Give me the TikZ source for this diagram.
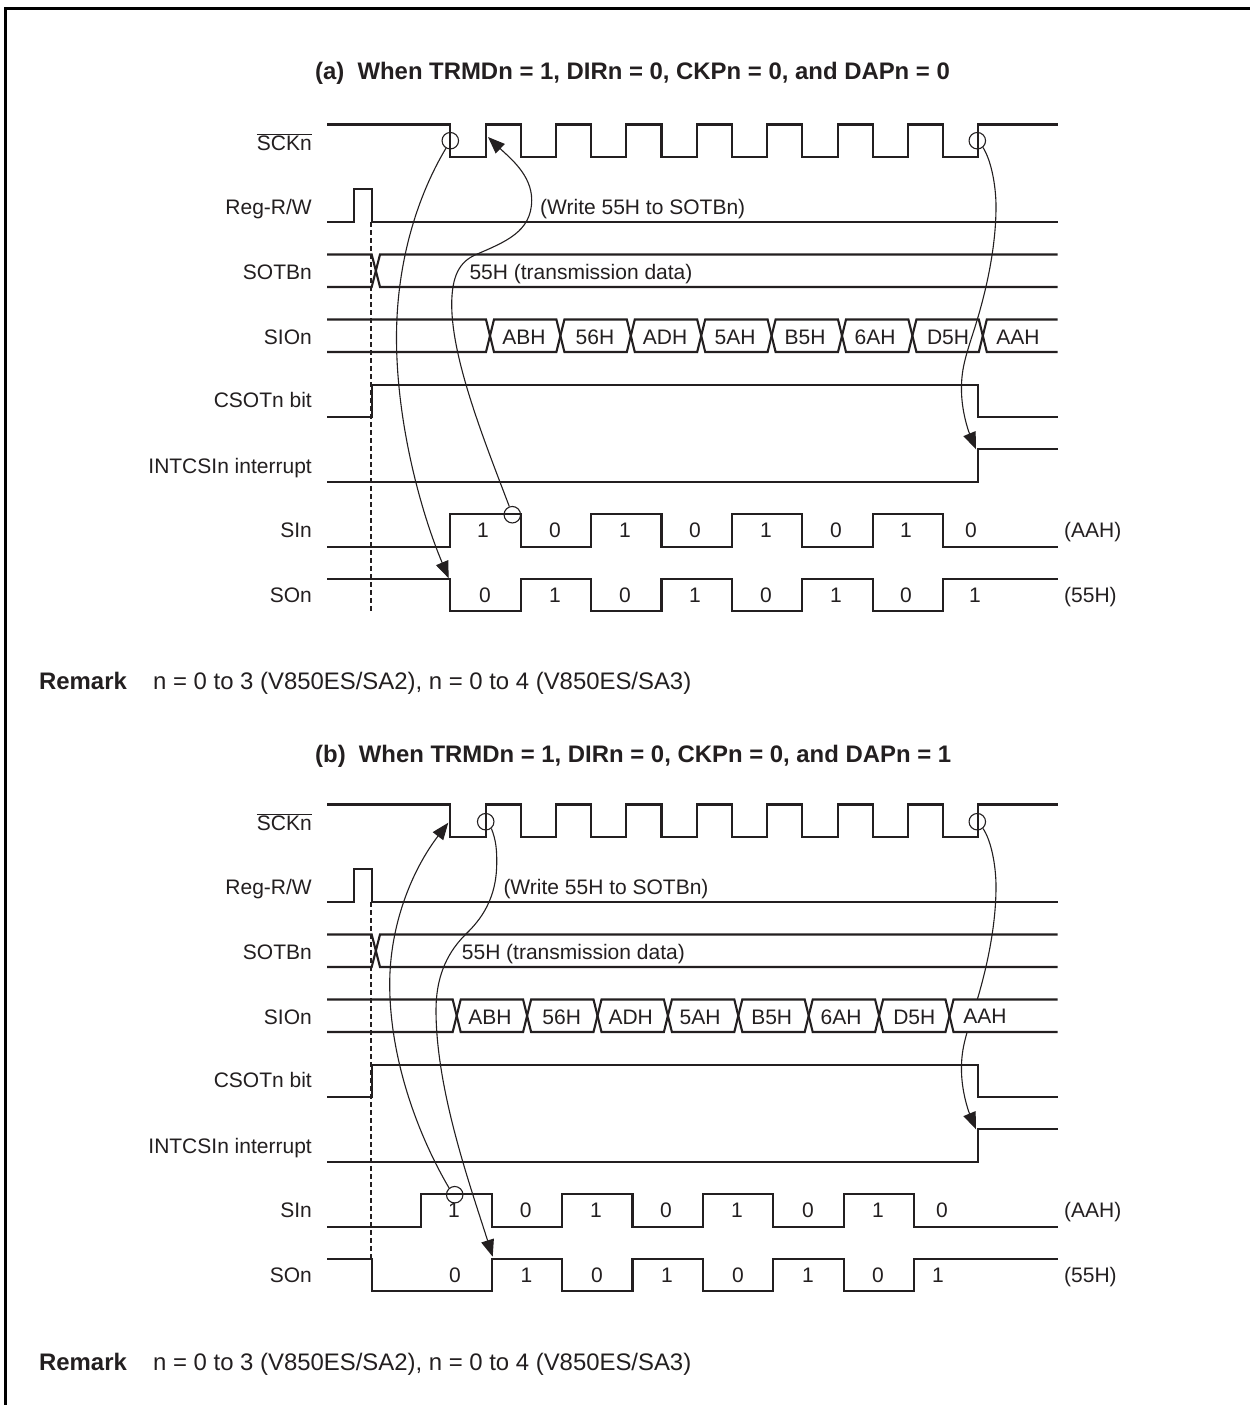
\documentclass[tikz,border=0pt]{standalone}
\usepackage{fontspec}
\setmainfont{Liberation Sans}
\usetikzlibrary{arrows.meta}
\definecolor{ink}{HTML}{231F20}
\tikzset{
  wave/.style={draw=ink,line width=2.1pt,line join=miter},
  link/.style={draw=ink,line width=1.1pt},
  arrowlink/.style={link,-{Triangle[length=17pt,width=13pt]}},
  guide/.style={draw=ink,line width=1.1pt,dash pattern=on 5pt off 3pt},
  ring/.style={circle,draw=ink,line width=1.1pt,minimum size=16.5pt,inner sep=0pt},
  sig/.style={anchor=base east,font=\fontsize{21}{25}\selectfont,text=ink,inner sep=0pt},
  txt/.style={anchor=base west,font=\fontsize{21}{25}\selectfont,text=ink,inner sep=0pt},
  val/.style={anchor=base,font=\fontsize{21}{25}\selectfont,text=ink,inner sep=0pt},
  ttl/.style={anchor=base west,font=\fontsize{23.9}{27}\selectfont\bfseries,text=ink,inner sep=0pt},
  rmk/.style={anchor=base west,font=\fontsize{23.9}{27}\selectfont\bfseries,text=ink,inner sep=0pt},
  rmktxt/.style={anchor=base west,font=\fontsize{23.9}{27}\selectfont,text=ink,inner sep=0pt},
}
% common rows of one panel: #1 = y offset, #2 = name prefix
\newcommand{\commonrows}[2]{%
\begin{scope}[yshift=-#1pt]
  \foreach \n/\t/\y in {1/{$\overline{\mbox{SCKn}}$}/150,2/Reg-R\slash W/214,3/SOTBn/279,4/SIOn/344,5/CSOTn bit/407,6/INTCSIn interrupt/473,7/SIn/537,8/SOn/602}
    \node[sig] (#2l\n) at (312,\y) {\t};
  % SCK
  \draw[wave] (327,124.5)
    \foreach \k in {0,...,7} { -- ({450.3+70.4*\k},124.5) -- ({450.3+70.4*\k},157) -- ({485.6+70.4*\k},157) -- ({485.6+70.4*\k},124.5) }
    -- (1057.5,124.5);
  % Reg-R/W
  \draw[wave] (327,222) -- (354,222) -- (354,189) -- (371.7,189) -- (371.7,222) -- (1057.5,222);
  % SOTB
  \draw[wave] (327,254.5) -- (371.7,254.5) -- (380,287) -- (1057.5,287);
  \draw[wave] (327,287) -- (371.7,287) -- (380,254.5) -- (1057.5,254.5);
  % CSOT
  \draw[wave] (327,416.7) -- (371.7,416.7) -- (371.7,384.7) -- (978,384.7) -- (978,416.7) -- (1057.5,416.7);
  % INTCSI
  \draw[wave] (327,481.7) -- (978,481.7) -- (978,449.3) -- (1057.5,449.3);
\end{scope}}
% bus row: #1 = x of first crossing, #2 top y, #3 bottom y
\newcommand{\busrow}[3]{%
  \draw[wave] (327,#2)
    \foreach \k in {0,2,4,6} { -- ({#1+70.4*\k},#2) -- ({#1+8+70.4*\k},#3) -- ({#1+70.4*(\k+1)},#3) -- ({#1+8+70.4*(\k+1)},#2) }
    -- (1057.5,#2);
  \draw[wave] (327,#3)
    \foreach \k in {0,2,4,6} { -- ({#1+70.4*\k},#3) -- ({#1+8+70.4*\k},#2) -- ({#1+70.4*(\k+1)},#2) -- ({#1+8+70.4*(\k+1)},#3) }
    -- (1057.5,#3);}
\begin{document}
\begin{tikzpicture}[x=1pt,y=-1pt]
\useasboundingbox (0,0) rectangle (1250,1405);
\fill[white] (0,0) rectangle (1250,1405);
\draw[black,line width=3pt] (5.5,1405) -- (5.5,8.5) -- (1250,8.5);

%% ===== panel a =====
\node[ttl] (ta) at (315,80) {(a)\hspace{0.55em}When TRMDn = 1, DIRn = 0, CKPn = 0, and DAPn = 0};
\coordinate (ga1) at (371,222);
\coordinate (ga2) at (371,612);
\draw[guide] (ga1) -- (ga2);
\node[ring] (ca1) at (450.3,140.7) {};
\node[ring] (ca2) at (977.3,140.7) {};
\node[ring] (ca3) at (512.3,514.7) {};
\coordinate (ea1) at (448.7,578.3);
\coordinate (ea2) at (488,137);
\coordinate (ea3) at (976,449.3);
\draw[arrowlink] (ca1.240) .. controls (418,195) and (397,260) .. (396.5,335) .. controls (396,420) and (420,510) .. (ea1);
\draw[arrowlink] (ca3.110) .. controls (484,440) and (452,360) .. (451.7,305) .. controls (451.7,275) and (460,262) .. (475,255) .. controls (505,242) and (531.7,232) .. (531.7,200) .. controls (531.7,175) and (510,158) .. (ea2);
\draw[arrowlink] (ca2.-50) .. controls (991,160) and (996,185) .. (996,206.7) .. controls (996,250) and (985,295) .. (975,327) .. controls (965,358) and (961,370) .. (961.5,392) .. controls (962,412) and (968,430) .. (ea3);
\commonrows{0}{a}
\node[txt] (wa) at (540,214) {(Write 55H to SOTBn)};
\node[txt] (da) at (469.3,279) {55H (transmission data)};
\busrow{486}{319.5}{352}
\foreach \n/\t/\x in {1/ABH/524,2/56H/595,3/ADH/665,4/5AH/735,5/B5H/805,6/6AH/875,7/D5H/948,8/AAH/1018}
  \node[val] (ha\n) at (\x,344.5) {\t};
% SIn a
\draw[wave] (327,546.7)
  \foreach \k in {0,...,3} { -- ({450.3+140.8*\k},546.7) -- ({450.3+140.8*\k},514.3) -- ({520.7+140.8*\k},514.3) -- ({520.7+140.8*\k},546.7) }
  -- (1057.5,546.7);
% SOn a
\draw[wave] (327,579.3)
  \foreach \k in {0,...,3} { -- ({450.3+140.8*\k},579.3) -- ({450.3+140.8*\k},611.3) -- ({520.7+140.8*\k},611.3) -- ({520.7+140.8*\k},579.3) }
  -- (1057.5,579.3);
\foreach \n/\t/\x in {1/1/483,2/0/555,3/1/625,4/0/695,5/1/766,6/0/836,7/1/906,8/0/971}
  \node[val] (ia\n) at (\x,537) {\t};
\foreach \n/\t/\x in {1/0/485,2/1/555,3/0/625,4/1/695,5/0/766,6/1/836,7/0/906,8/1/975}
  \node[val] (oa\n) at (\x,602) {\t};
\node[txt] (va) at (1064,537) {(AAH)};
\node[txt] (sa) at (1064,602) {(55H)};
\node[rmk] (ra) at (39,689) {Remark};
\node[rmktxt] (na) at (153,689) {n = 0 to 3 (V850ES/SA2), n = 0 to 4 (V850ES/SA3)};

%% ===== panel b =====
\node[ttl] (tb) at (315,762) {(b)\hspace{0.55em}When TRMDn = 1, DIRn = 0, CKPn = 0, and DAPn = 1};
\coordinate (gb1) at (371,902);
\coordinate (gb2) at (371,1259);
\draw[guide] (gb1) -- (gb2);
\node[ring] (cb1) at (485.7,821.7) {};
\node[ring] (cb2) at (977.3,821.7) {};
\node[ring] (cb3) at (454.7,1194.7) {};
\coordinate (eb1) at (448.3,822.7);
\coordinate (eb2) at (492.7,1256.7);
\coordinate (eb3) at (976,1129.3);
\draw[arrowlink] (cb3.130) .. controls (418,1135) and (390,1060) .. (389.7,985) .. controls (389.5,925) and (412,870) .. (eb1);
\draw[arrowlink] (cb1.-50) .. controls (496,840) and (497,850) .. (496.7,865) .. controls (496,905) and (475,925) .. (465,935) .. controls (445,955) and (436,980) .. (436,1010) .. controls (436,1090) and (470,1185) .. (eb2);
\draw[arrowlink] (cb2.-50) .. controls (991,840) and (996,865) .. (996,886.7) .. controls (996,930) and (985,975) .. (975,1007) .. controls (965,1038) and (961,1050) .. (961.5,1072) .. controls (962,1092) and (968,1110) .. (eb3);
\commonrows{680}{b}
\node[txt] (wb) at (503.3,894) {(Write 55H to SOTBn)};
\node[txt] (db) at (461.7,959) {55H (transmission data)};
\node[val,anchor=center,fill=white,minimum height=32pt] (hb8) at (985,1016) {AAH};
\busrow{452.7}{999.5}{1032}
\foreach \n/\t/\x in {1/ABH/490,2/56H/561.7,3/ADH/630.7,4/5AH/700,5/B5H/771.7,6/6AH/841,7/D5H/914.3}
  \node[val] (hb\n) at (\x,1024.5) {\t};
% SIn b
\draw[wave] (327,1226.7)
  \foreach \k in {0,...,3} { -- ({421.3+140.8*\k},1226.7) -- ({421.3+140.8*\k},1194.3) -- ({491.7+140.8*\k},1194.3) -- ({491.7+140.8*\k},1226.7) }
  -- (1057.5,1226.7);
% SOn b
\draw[wave] (327,1259.3) -- (371.7,1259.3) -- (371.7,1291.3) -- (491.7,1291.3) -- (491.7,1259.3)
  \foreach \k in {0,1,2} { -- ({562.1+140.8*\k},1259.3) -- ({562.1+140.8*\k},1291.3) -- ({632.5+140.8*\k},1291.3) -- ({632.5+140.8*\k},1259.3) }
  -- (1057.5,1259.3);
\foreach \n/\t/\x in {1/1/454,2/0/525.7,3/1/596,4/0/666,5/1/737,6/0/808,7/1/878,8/0/942}
  \node[val] (ib\n) at (\x,1217) {\t};
\foreach \n/\t/\x in {1/0/455,2/1/526.5,3/0/597,4/1/667,5/0/738,6/1/808,7/0/878,8/1/938}
  \node[val] (ob\n) at (\x,1282) {\t};
\node[txt] (vb) at (1064,1217) {(AAH)};
\node[txt] (sb) at (1064,1282) {(55H)};
\node[rmk] (rb) at (39,1370) {Remark};
\node[rmktxt] (nb) at (153,1370) {n = 0 to 3 (V850ES/SA2), n = 0 to 4 (V850ES/SA3)};
\end{tikzpicture}
\end{document}
